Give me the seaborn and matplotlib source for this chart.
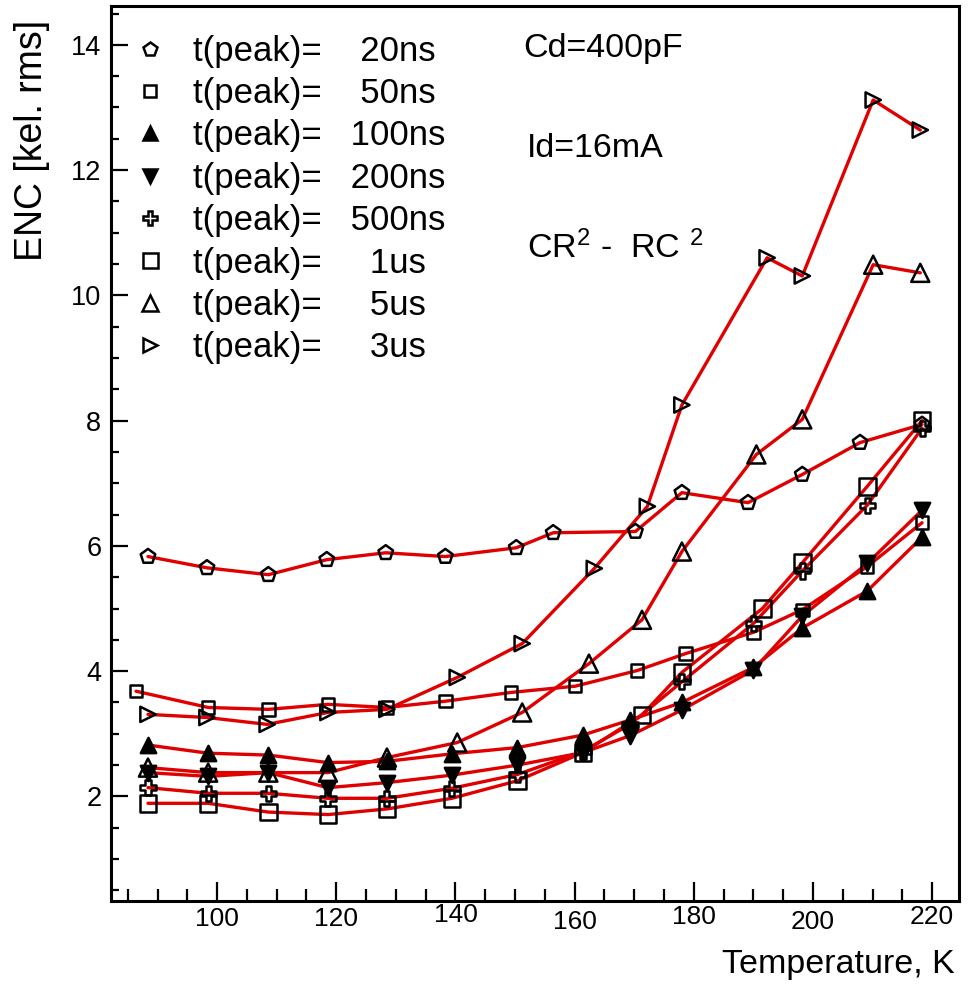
import matplotlib
matplotlib.use("Agg")
import matplotlib.pyplot as plt
import matplotlib.transforms as mtransforms
from matplotlib.lines import Line2D
from matplotlib.ticker import MultipleLocator
import pandas as pd
import seaborn as sns

# ENC versus temperature for several shaping (peaking) times
t_20ns = [88.4, 98.3, 108.6, 118.4, 128.3, 138.3, 150.2, 156.4, 170.2, 178.0, 189.1, 198.2, 207.9, 218.3]
enc_20ns = [5.83, 5.65, 5.54, 5.78, 5.89, 5.83, 5.97, 6.21, 6.23, 6.85, 6.69, 7.14, 7.65, 7.94]

t_50ns = [86.4, 98.5, 108.6, 118.6, 128.5, 138.3, 149.3, 160.1, 170.5, 178.6, 190.0, 198.2, 209.1, 218.3]
enc_50ns = [3.68, 3.42, 3.39, 3.47, 3.42, 3.52, 3.66, 3.76, 4.01, 4.28, 4.62, 4.98, 5.67, 6.37]

t_100ns = [88.4, 98.5, 108.6, 118.6, 128.5, 139.4, 150.4, 161.4, 169.3, 178.0, 190.0, 198.2, 209.1, 218.3]
enc_100ns = [2.82, 2.69, 2.66, 2.54, 2.56, 2.68, 2.78, 2.98, 3.22, 3.50, 4.06, 4.69, 5.28, 6.14]

t_200ns = [88.4, 98.5, 108.6, 118.6, 128.5, 139.4, 150.4, 161.4, 169.3, 178.0, 190.0, 198.2, 209.1, 218.3]
enc_200ns = [2.38, 2.32, 2.38, 2.14, 2.22, 2.34, 2.50, 2.70, 2.97, 3.38, 4.02, 4.88, 5.72, 6.57]

t_500ns = [88.4, 98.5, 108.6, 118.6, 128.5, 139.4, 150.4, 161.4, 169.3, 178.0, 190.0, 198.2, 209.1, 218.3]
enc_500ns = [2.14, 2.05, 2.05, 1.97, 1.97, 2.13, 2.35, 2.72, 3.15, 3.83, 4.76, 5.60, 6.65, 7.88]

t_1us = [88.4, 98.5, 108.6, 118.6, 128.5, 139.4, 150.4, 161.4, 171.3, 178.0, 191.5, 198.2, 209.1, 218.3]
enc_1us = [1.89, 1.89, 1.75, 1.71, 1.80, 1.97, 2.25, 2.70, 3.30, 3.98, 5.00, 5.73, 6.95, 8.00]

t_5us = [88.4, 98.5, 108.6, 118.6, 128.5, 140.3, 151.2, 162.4, 171.3, 178.0, 190.5, 198.2, 210.1, 218.0]
enc_5us = [2.46, 2.38, 2.38, 2.38, 2.62, 2.86, 3.34, 4.12, 4.82, 5.91, 7.46, 8.02, 10.49, 10.36]

t_3us = [88.4, 98.3, 108.4, 118.6, 128.5, 140.3, 151.2, 163.3, 172.2, 178.0, 192.3, 198.2, 210.1, 218.0]
enc_3us = [3.31, 3.26, 3.15, 3.34, 3.39, 3.90, 4.44, 5.64, 6.63, 8.25, 10.60, 10.31, 13.12, 12.64]

peak_labels = ["20ns", "50ns", "100ns", "200ns", "500ns", "1us", "5us", "3us"]
temperatures = [t_20ns, t_50ns, t_100ns, t_200ns, t_500ns, t_1us, t_5us, t_3us]
enc_values = [enc_20ns, enc_50ns, enc_100ns, enc_200ns, enc_500ns, enc_1us, enc_5us, enc_3us]

# marker style per series: (marker, filled, size in points)
marker_styles = {
    "20ns": ("p", False, 11),
    "50ns": ("s", False, 9),
    "100ns": ("^", True, 11),
    "200ns": ("v", True, 11),
    "500ns": ("P", False, 11),
    "1us": ("s", False, 12),
    "5us": ("^", False, 13),
    "3us": (">", False, 11),
}
# padding so the values line up in the legend column
label_pad = {"20ns": "    ", "50ns": "    ", "100ns": "   ", "200ns": "   ",
             "500ns": "   ", "1us": "     ", "5us": "     ", "3us": "     "}

frames = []
for name, tt, ee in zip(peak_labels, temperatures, enc_values):
    frames.append(pd.DataFrame({"T": tt, "ENC": ee, "tpeak": name}))
df = pd.concat(frames, ignore_index=True)

sns.set_style("white")
plt.rcParams["font.family"] = ["Liberation Sans", "DejaVu Sans"]
plt.rcParams["mathtext.fontset"] = "custom"
plt.rcParams["mathtext.rm"] = "Liberation Sans"
plt.rcParams["mathtext.it"] = "Liberation Sans:italic"
plt.rcParams["text.color"] = "black"
plt.rcParams["axes.labelcolor"] = "black"
plt.rcParams["xtick.color"] = "black"
plt.rcParams["ytick.color"] = "black"

fig = plt.figure(figsize=(9.68, 9.90), dpi=100)
ax = fig.add_axes([0.1147, 0.0899, 0.876, 0.904])

line_red = "#e00000"
for name in peak_labels:
    sub = df[df["tpeak"] == name]
    sns.lineplot(data=sub, x="T", y="ENC", ax=ax, color=line_red, linewidth=2.4,
                 sort=False, estimator=None, legend=False, zorder=2)

handles = []
for name in peak_labels:
    sub = df[df["tpeak"] == name]
    mk, filled, ms = marker_styles[name]
    sns.scatterplot(data=sub, x="T", y="ENC", ax=ax, marker=mk, s=ms ** 2,
                    legend=False, zorder=3)
    coll = ax.collections[-1]
    coll.set_facecolor("black" if filled else "none")
    coll.set_edgecolor("black")
    coll.set_linewidth(1.8)
    handles.append(Line2D([], [], linestyle="none", marker=mk,
                          markersize=ms * 0.9,
                          markerfacecolor="black" if filled else "none",
                          markeredgecolor="black", markeredgewidth=1.8))

ax.set_xlim(82.2, 224.5)
ax.set_ylim(0.33, 14.62)

ax.xaxis.set_major_locator(MultipleLocator(20))
ax.xaxis.set_minor_locator(MultipleLocator(5))
ax.yaxis.set_major_locator(MultipleLocator(2))
ax.yaxis.set_minor_locator(MultipleLocator(0.5))

ax.tick_params(axis="both", which="both", direction="in", bottom=True, left=True,
               top=False, right=False, width=1.6, colors="black")
ax.tick_params(axis="x", which="major", length=13.5, pad=4, labelsize=19)
ax.tick_params(axis="x", which="minor", length=9)
ax.tick_params(axis="y", which="major", length=12.5, pad=7, labelsize=19.5)
ax.tick_params(axis="y", which="minor", length=6)
for sp in ax.spines.values():
    sp.set_linewidth(2.2)
    sp.set_color("black")

ax.set_xticks([100, 120, 140, 160, 180, 200, 220])
ax.set_yticks([2, 4, 6, 8, 10, 12, 14])
ax.set_xticklabels(["100", "120", "140", "160", "180", "200", "220"])
ax.set_yticklabels(["2", "4", "6", "8", "10", "12", "14"])
# slight vertical offsets of the temperature labels
x_label_shift = [0, 0, 4, -3, 1.5, -3, 1.5]
for lab, dy in zip(ax.get_xticklabels(), x_label_shift):
    lab.set_transform(lab.get_transform() +
                      mtransforms.ScaledTranslation(0, dy / 100, fig.dpi_scale_trans))

ax.set_xlabel("Temperature, K", fontsize=24.5, loc="right")
ax.xaxis.set_label_coords(0.995, -0.054)
ax.set_ylabel("ENC [kel. rms]", fontsize=27, loc="top")
ax.yaxis.set_label_coords(-0.072, 0.984)

legend_labels = ["t(peak)=" + label_pad[n] + n for n in peak_labels]
ax.legend(handles, legend_labels, loc="upper left", bbox_to_anchor=(0.026, 0.968),
          frameon=False, fontsize=25, handlelength=1.0, handletextpad=0.72,
          labelspacing=0.27, borderpad=0, borderaxespad=0)

ax.text(0.486, 0.953, "Cd=400pF", transform=ax.transAxes, fontsize=24.5,
        ha="left", va="center")
ax.text(0.4906, 0.841, "Id=16mA", transform=ax.transAxes, fontsize=24.5,
        ha="left", va="center")
ax.text(0.4906, 0.73, "CR$^{2}$ -  RC $^{2}$", transform=ax.transAxes, fontsize=24.5,
        ha="left", va="center")

fig.savefig("out.png", dpi=100)
